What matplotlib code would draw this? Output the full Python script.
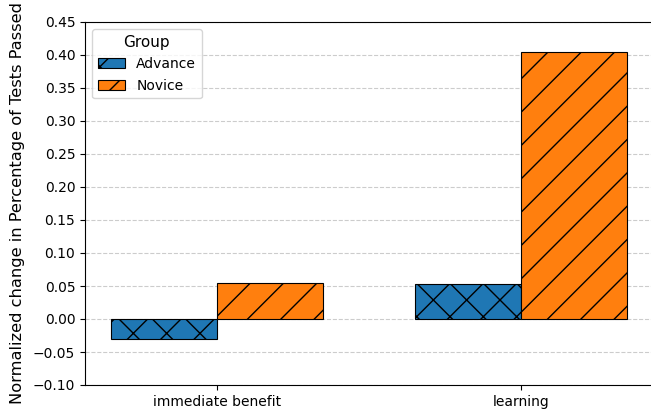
import numpy as np
import matplotlib
matplotlib.use("Agg")
import matplotlib.pyplot as plt

categories = ["immediate benefit", "learning"]
groups = ["Advance", "Novice"]
advance_vals = [-0.031, 0.053]
novice_vals = [0.055, 0.405]
yticks = [-0.10, -0.05, 0.00, 0.05, 0.10, 0.15, 0.20, 0.25, 0.30, 0.35, 0.40, 0.45]

fig = plt.figure(figsize=(6.51, 4.09), dpi=100)
ax = fig.add_axes([85 / 651, 1 - 385 / 409, 568 / 651, 363 / 409])

x = np.arange(len(categories))
width = 0.35
colors = ["#1f77b4", "#ff7f0e"]
hatches = ["x", "/"]
for i, (name, vals) in enumerate(zip(groups, [advance_vals, novice_vals])):
    ax.bar(x + (i - 0.5) * width, vals, width, label=name, color=colors[i],
           edgecolor="black", hatch=hatches[i], linewidth=0.8, zorder=3)

ax.set_xticks(x)
ax.set_xticklabels(categories, fontsize=10)
ax.set_yticks(yticks)
ax.set_yticklabels([f"{v:.2f}".replace("-", "\u2212") for v in yticks], fontsize=10)
ax.set_ylim(-0.10, 0.45)
ax.set_ylabel("Normalized change in Percentage of Tests Passed", fontsize=11.7, labelpad=5.5)
ax.yaxis.grid(True, linestyle="--", color="#cccccc", linewidth=0.8, zorder=0)
ax.set_axisbelow(True)
ax.legend(title="Group", loc="upper left", fontsize=10, title_fontsize=11,
          labelspacing=0.55)

fig.savefig("out.png", dpi=100)
